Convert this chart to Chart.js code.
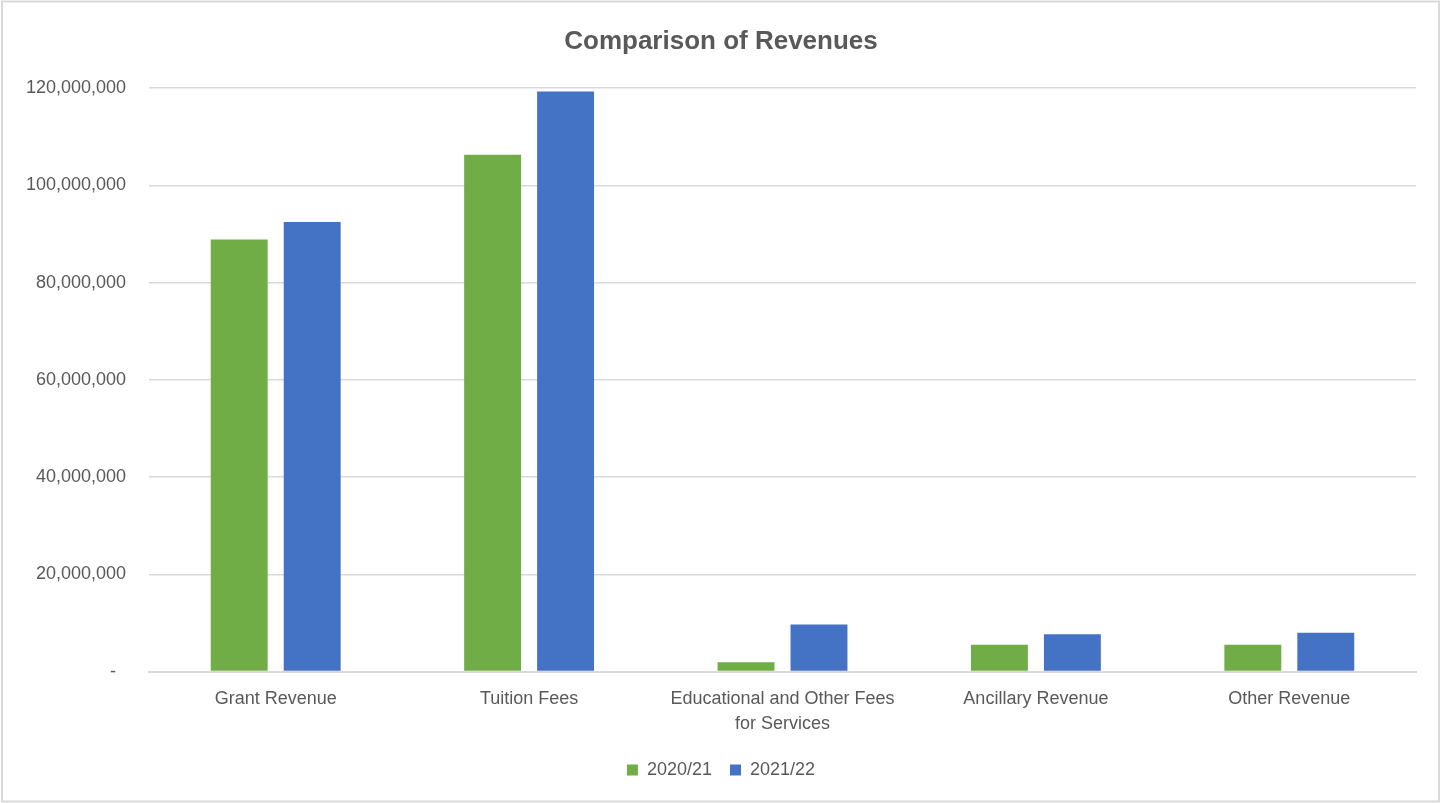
<!DOCTYPE html>
<html>
<head>
<meta charset="utf-8">
<script src="https://cdn.jsdelivr.net/npm/chart.js@4"></script>
<style>
  html, body { margin: 0; padding: 0; background: #fff; }
  #wrap { position: absolute; left: 0; top: 0; width: 1442px; height: 803px; }
</style>
</head>
<body>
<div id="wrap"><canvas id="revChart" width="1442" height="803"></canvas></div>
<script>
// Revenue categories (second one wraps onto two lines like the original)
const categories = [
    'Grant Revenue',
    'Tuition Fees',
    ['Educational and Other Fees', 'for Services'],
    'Ancillary Revenue',
    'Other Revenue'
];
const seriesNames = ['2020/21', '2021/22'];
const values2021 = [88900000, 106300000, 1900000, 5500000, 5500000];
const values2122 = [92500000, 119300000, 9700000, 7700000, 8000000];
const yTicks = [0, 20000000, 40000000, 60000000, 80000000, 100000000, 120000000];

const textColor = '#595959';
const gridColor = '#d9d9d9';
const fontFamily = "'Liberation Sans', Arial, sans-serif";

// light grey frame around the whole chart, like the Excel chart area
const framePlugin = {
    id: 'frame',
    beforeDraw(chart) {
        const c = chart.ctx;
        c.save();
        c.fillStyle = '#fff';
        c.fillRect(0, 0, chart.width, chart.height);
        c.strokeStyle = '#d9d9d9';
        c.lineWidth = 2;
        c.strokeRect(2, 1.5, chart.width - 5, chart.height - 3);
        c.restore();
    }
};

const ctx = document.getElementById('revChart').getContext('2d');
const chart = new Chart(ctx, {
    type: 'bar',
    data: {
        labels: categories,
        datasets: [
            { label: seriesNames[0], data: values2021, backgroundColor: '#70AD47', borderWidth: 0 },
            { label: seriesNames[1], data: values2122, backgroundColor: '#4472C4', borderWidth: 0 }
        ]
    },
    options: {
        responsive: false,
        animation: false,
        categoryPercentage: 0.576,
        barPercentage: 0.78,
        layout: { padding: { left: 26, right: 26, top: 0, bottom: 14 } },
        plugins: {
            title: {
                display: true,
                text: 'Comparison of Revenues',
                color: textColor,
                font: { family: fontFamily, size: 26, weight: 'bold' },
                padding: { top: 26, bottom: 31 }
            },
            legend: {
                position: 'bottom',
                labels: {
                    color: textColor,
                    font: { family: fontFamily, size: 18 },
                    boxWidth: 11,
                    boxHeight: 11,
                    padding: 18
                }
            },
            tooltip: { enabled: false }
        },
        scales: {
            x: {
                afterFit(scale) { scale.height -= 9; },
                grid: { display: false, drawTicks: false },
                border: { display: true, color: gridColor, width: 2 },
                ticks: {
                    color: textColor,
                    font: { family: fontFamily, size: 18, lineHeight: 1.4 },
                    padding: 15,
                    maxRotation: 0,
                    autoSkip: false
                }
            },
            y: {
                min: 0,
                max: 120000000,
                afterFit(scale) { scale.width = 123; },
                afterBuildTicks(scale) { scale.ticks = yTicks.map(v => ({ value: v })); },
                grid: { color: gridColor, lineWidth: 1.5, drawTicks: false },
                border: { display: false },
                ticks: {
                    color: textColor,
                    font: { family: fontFamily, size: 18 },
                    padding: 23,
                    callback: v => v === 0 ? '-  ' : v.toLocaleString('en-US')
                }
            }
        }
    },
    plugins: [framePlugin]
});
</script>
</body>
</html>
